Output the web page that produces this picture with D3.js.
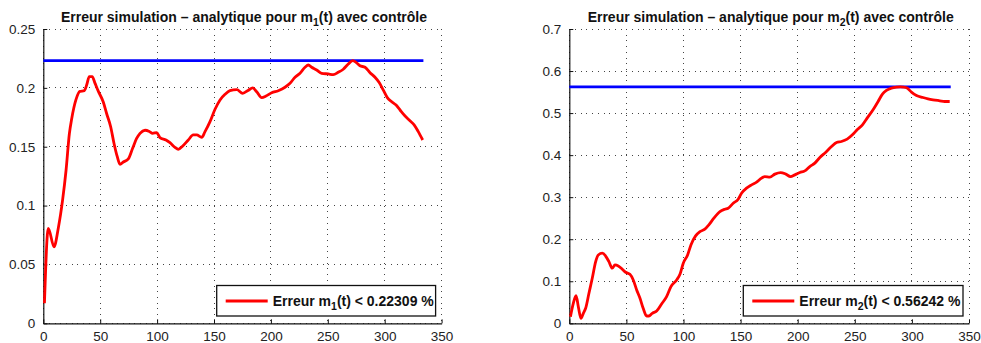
<!DOCTYPE html>
<html>
<head>
<meta charset="utf-8">
<script src="https://cdn.jsdelivr.net/npm/d3@7"></script>
<style>
  html, body { margin: 0; padding: 0; background: #fff; }
  svg { display: block; font-family: "Liberation Sans", Arial, Helvetica, sans-serif; }
</style>
</head>
<body>
<svg id="chart" width="981" height="343"></svg>
<script>
// Error between simulation and analytic solution, with control, for m1(t) and m2(t)

const xTicks = [0, 50, 100, 150, 200, 250, 300, 350];
const m1Ticks = [0, 0.05, 0.1, 0.15, 0.2, 0.25];
const m2Ticks = [0, 0.1, 0.2, 0.3, 0.4, 0.5, 0.6, 0.7];

const m1Time = [1, 4.4, 9.4, 13.2, 17, 20, 22.9, 25, 28.7, 32.2, 36, 38.1, 40.4, 43, 45.4, 48.4,
  52.7, 55.7, 59.2, 62.1, 65, 67.4, 70.3, 74.7, 78.5, 82, 85, 89.4, 93.2, 96.1, 99.6, 102.5,
  107.8, 111.3, 115.7, 118.6, 122.5, 127.4, 131.8, 134.8, 139.2, 142.1, 146.5, 150.9, 155.3,
  159.7, 164, 170, 175.2, 180.2, 184, 187.5, 191.9, 195.7, 200.7, 206.5, 212.4, 216.8, 221.2,
  225.6, 230, 232.9, 235.8, 240.2, 244.6, 250.4, 254.8, 259.2, 263.6, 268, 271.9, 274.8, 278.3,
  282.7, 287.1, 291.5, 295.3, 298.8, 302.3, 306.2, 310, 313.5, 317.9, 322.2, 326, 329.5, 333.4];
const m1Error = [0.017, 0.0807, 0.065, 0.081, 0.105, 0.130, 0.161, 0.174, 0.190, 0.197, 0.1976,
  0.2024, 0.2095, 0.2095, 0.204, 0.197, 0.188, 0.178, 0.167, 0.153, 0.1415, 0.135, 0.137, 0.1396,
  0.1487, 0.157, 0.1614, 0.164, 0.163, 0.1614, 0.162, 0.1577, 0.1557, 0.1534, 0.1495, 0.1478,
  0.1506, 0.1557, 0.160, 0.160, 0.158, 0.1628, 0.1713, 0.1818, 0.1897, 0.1945, 0.1976, 0.1985,
  0.1954, 0.198, 0.200, 0.1967, 0.1917, 0.193, 0.1959, 0.1976, 0.2005, 0.2039, 0.209, 0.2124,
  0.2175, 0.2194, 0.2175, 0.2152, 0.2124, 0.2118, 0.2112, 0.2132, 0.2158, 0.2203, 0.22309,
  0.2217, 0.2188, 0.2175, 0.2129, 0.209, 0.2044, 0.198, 0.1917, 0.1882, 0.1854, 0.1812, 0.1761,
  0.1721, 0.1684, 0.1628, 0.1557];

const m2Time = [1, 3.5, 5.9, 7.9, 10.2, 12.3, 14.3, 17.2, 20.1, 23.1, 25.4, 28.9, 31.8, 34.7,
  37.6, 40, 42.9, 46.4, 49.3, 53.1, 56, 59, 61.9, 64.7, 67.7, 69.7, 72.6, 76.5, 80.8, 85.2, 89,
  94, 96.9, 99.8, 103.6, 106.5, 110.6, 114.4, 118.7, 122.2, 126.6, 131.9, 136.2, 139.1, 143.5,
  147.9, 150.8, 155.2, 159.6, 164, 168.3, 171.2, 175.6, 180, 185, 189.6, 193.7, 197.5, 201.9,
  206.2, 210.6, 215, 219.4, 224.6, 229.6, 234, 238.3, 243.3, 247.9, 252, 256.7, 260.8, 266,
  270.4, 274.2, 277.7, 282.1, 287, 290, 292.3, 295.8, 299.6, 304, 309.7, 314.1, 318.5, 324.4,
  328.7, 333.1];
const m2Error = [0.0157, 0.0476, 0.0657, 0.0395, 0.012, 0.0238, 0.0357, 0.0714, 0.107, 0.1467,
  0.1626, 0.1667, 0.160, 0.1467, 0.131, 0.1388, 0.1364, 0.1286, 0.1214, 0.1167, 0.1031, 0.0793,
  0.0595, 0.0357, 0.0174, 0.0174, 0.0238, 0.0293, 0.046, 0.0633, 0.0871, 0.1031, 0.1167, 0.1429,
  0.1626, 0.1864, 0.2079, 0.2181, 0.2238, 0.234, 0.25, 0.2657, 0.2714, 0.2738, 0.2857, 0.2952,
  0.3095, 0.3214, 0.3293, 0.3357, 0.3452, 0.349, 0.3476, 0.3548, 0.3586, 0.3548, 0.349, 0.3531,
  0.3586, 0.3626, 0.3729, 0.381, 0.3943, 0.4071, 0.4205, 0.43, 0.4324, 0.438, 0.4483, 0.4602,
  0.4721, 0.488, 0.5079, 0.5276, 0.5452, 0.5538, 0.5595, 0.5619, 0.56242, 0.5619, 0.5595, 0.55,
  0.5419, 0.5371, 0.534, 0.5317, 0.5293, 0.5276, 0.5276];

// Upper bounds of each error, drawn as horizontal lines over the run
const boundTime = [0, 334];
const m1Bound = 0.22309;
const m2Bound = 0.56242;

const svg = d3.select("#chart");

function drawPanel(opt) {
  const x = d3.scaleLinear().domain([0, 350]).range([opt.left, opt.right]);
  const y = d3.scaleLinear().domain([0, opt.yMax]).range([opt.bottom, opt.top]);
  const g = svg.append("g");

  // dotted grid
  g.append("g").selectAll("line").data(xTicks).join("line")
    .attr("x1", d => x(d)).attr("x2", d => x(d))
    .attr("y1", opt.top).attr("y2", opt.bottom)
    .attr("stroke", "#444").attr("stroke-width", 1)
    .attr("stroke-dasharray", "1,4.7").attr("shape-rendering", "crispEdges");
  g.append("g").selectAll("line").data(opt.yTicks).join("line")
    .attr("x1", opt.left).attr("x2", opt.right)
    .attr("y1", d => y(d)).attr("y2", d => y(d))
    .attr("stroke", "#444").attr("stroke-width", 1)
    .attr("stroke-dasharray", "1,4.7").attr("shape-rendering", "crispEdges");

  // axes
  const xAxis = d3.axisBottom(x).tickValues(xTicks).tickSizeInner(-4).tickSizeOuter(0)
    .tickPadding(8).tickFormat(d3.format("d"));
  const yAxis = d3.axisLeft(y).tickValues(opt.yTicks).tickSizeInner(-4).tickSizeOuter(0)
    .tickPadding(8).tickFormat(d => d === 0 ? "0" : String(d));
  const gx = g.append("g").attr("transform", `translate(0,${opt.bottom})`).call(xAxis);
  const gy = g.append("g").attr("transform", `translate(${opt.left},0)`).call(yAxis);
  [gx, gy].forEach(a => {
    a.select(".domain").attr("stroke", "#111").attr("stroke-width", 1.2);
    a.selectAll(".tick line").attr("stroke", "#111");
    a.selectAll(".tick text").attr("fill", "#222").style("font-size", "13.5px")
      .style("font-family", "'Liberation Sans', Arial, sans-serif");
  });

  // bound line
  const line = d3.line().x(d => x(d[0])).y(d => y(d[1]));
  g.append("path")
    .datum(boundTime.map(t => [t, opt.bound]))
    .attr("d", line).attr("fill", "none")
    .attr("stroke", "#0000ff").attr("stroke-width", 2.8);

  // error curve
  const curve = d3.line().x(d => x(d[0])).y(d => y(d[1])).curve(d3.curveMonotoneX);
  g.append("path")
    .datum(opt.time.map((t, i) => [t, opt.values[i]]))
    .attr("d", curve).attr("fill", "none")
    .attr("stroke", "#ff0000").attr("stroke-width", 2.8)
    .attr("stroke-linejoin", "round");

  // title
  const title = g.append("text")
    .attr("x", (opt.left + opt.right) / 2 + 1.5).attr("y", 21.5)
    .attr("text-anchor", "middle")
    .style("font-size", "14px").style("font-weight", "bold").attr("fill", "#111");
  title.append("tspan").text("Erreur simulation \u2013 analytique pour m");
  title.append("tspan").attr("dy", 4).style("font-size", "10.5px").text(opt.sub);
  title.append("tspan").attr("dy", -4).text("(t) avec contr\u00f4le");

  // legend
  const lg = g.append("g");
  lg.append("rect")
    .attr("x", opt.legendX).attr("y", 285.5)
    .attr("width", opt.right - 6 - opt.legendX).attr("height", 30.5)
    .attr("fill", "#fff").attr("stroke", "#111").attr("stroke-width", 1.3);
  lg.append("line")
    .attr("x1", opt.legendX + 9).attr("x2", opt.legendX + 51)
    .attr("y1", 301).attr("y2", 301)
    .attr("stroke", "#ff0000").attr("stroke-width", 2.8);
  const lt = lg.append("text")
    .attr("x", opt.legendX + 56).attr("y", 305.5)
    .style("font-size", "14px").style("font-weight", "bold").attr("fill", "#111");
  lt.append("tspan").text("Erreur m");
  lt.append("tspan").attr("dy", 4).style("font-size", "10.5px").text(opt.sub);
  lt.append("tspan").attr("dy", -4).text(`(t) < ${opt.bound} %`);
}

drawPanel({
  left: 43.3, right: 441.6, top: 29, bottom: 323.3,
  yMax: 0.25, yTicks: m1Ticks, time: m1Time, values: m1Error,
  bound: m1Bound, sub: "1", legendX: 216.7
});

drawPanel({
  left: 569.3, right: 969, top: 29, bottom: 323.3,
  yMax: 0.7, yTicks: m2Ticks, time: m2Time, values: m2Error,
  bound: m2Bound, sub: "2", legendX: 743.3
});
</script>
</body>
</html>
